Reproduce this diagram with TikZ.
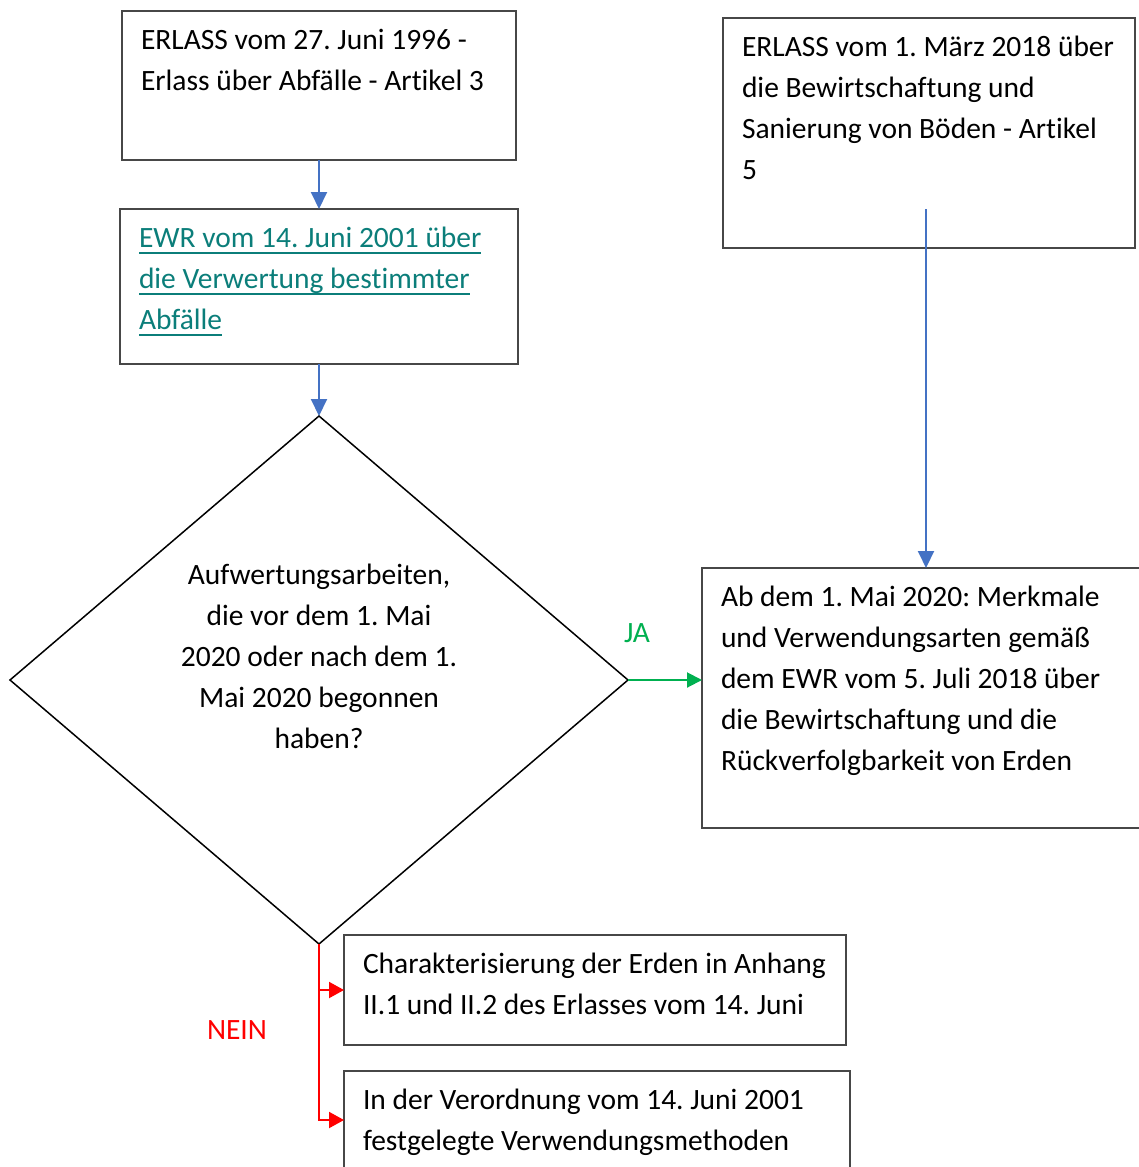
\documentclass[tikz,border=0pt]{standalone}
\usepackage{fontspec}
\setmainfont{Carlito}[Ligatures=NoCommon]
\usetikzlibrary{arrows.meta,shapes.geometric,calc}
\definecolor{flowblue}{HTML}{4472C4}
\definecolor{yesgreen}{HTML}{00B050}
\definecolor{nored}{HTML}{FF0000}
\definecolor{linkteal}{HTML}{0B7E7A}
\definecolor{boxgray}{HTML}{474747}
\tikzstyle{box}=[rectangle,draw=boxgray,line width=1.5pt,anchor=north west,outer sep=0pt,inner xsep=19pt,inner ysep=0pt,font=\fontsize{29.5}{41}\selectfont]
\tikzstyle{decisionshape}=[diamond,draw=black,line width=1.5pt,minimum width=618pt,minimum height=528pt,inner sep=0pt,outer sep=0pt]
\tikzstyle{plaintext}=[font=\fontsize{29.5}{41}\selectfont,align=center,inner sep=0pt]
\tikzstyle{blueedge}=[draw=flowblue,line width=2pt,-{Triangle[length=17pt,width=16pt]}]
\tikzstyle{yesedge}=[draw=yesgreen,line width=2pt,-{Triangle[length=15pt,width=15pt]}]
\tikzstyle{noedge}=[draw=nored,line width=2pt,-{Triangle[length=15pt,width=16pt]}]
\newcommand{\boxtext}[3]{\parbox[c][#2][t]{#1}{\raggedright\frenchspacing\vspace*{9.5pt}\leavevmode\strut#3}}
\newsavebox{\linkbox}
\newcommand{\linkline}[1]{\leavevmode\sbox{\linkbox}{#1}\rlap{\color{linkteal}\rule[-6.5pt]{\wd\linkbox}{2pt}}\usebox{\linkbox}}

\begin{document}
\frenchspacing
\begin{tikzpicture}[x=1pt,y=-1pt]
    \clip (0,0) rectangle (1139,1167);
    \fill[white] (0,0) rectangle (1139,1167);
    % First we draw the boxes
    \node[box] (erlassbox) at (122,11) {\boxtext{356pt}{149pt}{ERLASS vom 27. Juni 1996 -\\Erlass über Abfälle - Artikel 3}};
    \node[box,text=linkteal] (ewrbox) at (120,209) {\boxtext{360pt}{155pt}{\linkline{EWR vom 14. Juni 2001 über}\\\linkline{die Verwertung bestimmter}\\\linkline{Abfälle}}};
    \node[box] (soilbox) at (723,18) {\boxtext{374pt}{230pt}{ERLASS vom 1. März 2018 über\\die Bewirtschaftung und\\Sanierung von Böden - Artikel\\5}};
    \node[box] (jabox) at (702,568) {\boxtext{405pt}{260pt}{Ab dem 1. Mai 2020: Merkmale\\und Verwendungsarten gemäß\\dem EWR vom 5. Juli 2018 über\\die Bewirtschaftung und die\\Rückverfolgbarkeit von Erden}};
    \node[box] (charbox) at (344,935) {\boxtext{464pt}{110pt}{Charakterisierung der Erden in Anhang\\II.1 und II.2 des Erlasses vom 14. Juni}};
    \node[box] (methodbox) at (344,1071) {\boxtext{468pt}{98pt}{In der Verordnung vom 14. Juni 2001\\festgelegte Verwendungsmethoden}};

    % The decision
    \node[decisionshape] (decision) at (319,680) {};
    \node[plaintext] (decisiontext) at ([yshift=24pt]decision.center) {Aufwertungsarbeiten,\\die vor dem 1. Mai\\2020 oder nach dem 1.\\Mai 2020 begonnen\\haben?};

    % Connect the boxes
    \path[blueedge] (erlassbox.south) -- (ewrbox.north);
    \path[blueedge] (ewrbox.south) -- (ewrbox.south |- decision.north);
    \coordinate (soilstart) at (926,209);
    \path[blueedge] (soilstart) -- (soilstart |- jabox.north);
    \path[yesedge] (decision.east) -- (decision.east -| jabox.west);
    \foreach \dest in {charbox,methodbox}
        \path[noedge] (decision.south) |- (\dest.west);

    % Answers
    \node[plaintext,text=yesgreen] (jalabel) at (637,633) {JA};
    \node[plaintext,text=nored] (neinlabel) at (237,1030) {NEIN};
\end{tikzpicture}
\end{document}
